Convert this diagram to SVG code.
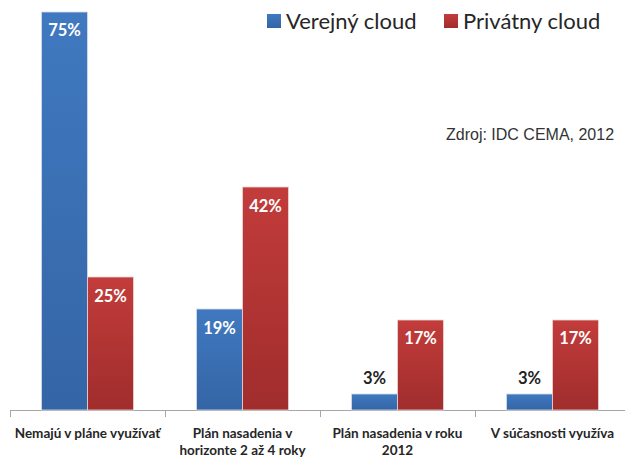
<svg xmlns="http://www.w3.org/2000/svg" width="625" height="457" viewBox="0 0 625 457">
<defs>
<linearGradient id="gb" x1="0" y1="0" x2="0" y2="1"><stop offset="0" stop-color="#4079c0"/><stop offset="1" stop-color="#3465a6"/></linearGradient>
<linearGradient id="gr" x1="0" y1="0" x2="0" y2="1"><stop offset="0" stop-color="#c23c3b"/><stop offset="1" stop-color="#a02d2c"/></linearGradient>
<style>
.b{fill:url(#gb);stroke:#d6dde8;stroke-width:0.8}
.r{fill:url(#gr);stroke:#ead6d6;stroke-width:0.8}
.v{font-family:Lato,"Open Sans",sans-serif;font-weight:bold;font-size:16.5px;fill:#fff;text-anchor:middle}
.vd{fill:#222}
.c{font-family:Lato,"Open Sans",sans-serif;font-weight:bold;font-size:13.5px;fill:#262626;text-anchor:middle}
.lg{font-family:Lato,"Open Sans",sans-serif;font-size:22px;fill:#262626}
.ax{stroke:#a6a6a6;stroke-width:1;fill:none}
</style>
</defs>
<rect width="625" height="457" fill="#fff"/>
<g id="legend">
<rect x="267" y="14" width="14" height="14" fill="url(#gb)"/>
<text class="lg" x="286" y="28.5">Verejný cloud</text>
<rect x="444" y="14" width="14" height="14" fill="url(#gr)"/>
<text class="lg" x="463" y="28.5">Privátny cloud</text>
</g>
<text id="source" x="446" y="140" font-family="Liberation Sans,Arial,sans-serif" font-size="16" fill="#333">Zdroj: IDC CEMA, 2012</text>
<g id="axis">
<path class="ax" d="M10 410.5H625M10.5 410V417M165.5 410V417M320.5 410V417M475.5 410V417"/>
</g>
<g id="cat1">
<rect class="b" x="41.5" y="12" width="46" height="398"/>
<rect class="r" x="87.5" y="277" width="46" height="133"/>
<text class="v" x="64.5" y="36">75%</text>
<text class="v" x="110.5" y="302">25%</text>
<text class="c" x="87.5" y="438">Nemajú v pláne využívať</text>
</g>
<g id="cat2">
<rect class="b" x="196.5" y="309" width="46" height="101"/>
<rect class="r" x="242.5" y="187" width="46" height="223"/>
<text class="v" x="219.5" y="334">19%</text>
<text class="v" x="265.5" y="211.5">42%</text>
<text class="c" x="242.5" y="438">Plán nasadenia v</text>
<text class="c" x="242.5" y="455">horizonte 2 až 4 roky</text>
</g>
<g id="cat3">
<rect class="b" x="351.5" y="394" width="46" height="16"/>
<rect class="r" x="397.5" y="320" width="46" height="90"/>
<text class="v vd" x="374.5" y="384">3%</text>
<text class="v" x="420.5" y="343.5">17%</text>
<text class="c" x="397.5" y="438">Plán nasadenia v roku</text>
<text class="c" x="397.5" y="455">2012</text>
</g>
<g id="cat4">
<rect class="b" x="506.5" y="394" width="46" height="16"/>
<rect class="r" x="552.5" y="320" width="46" height="90"/>
<text class="v vd" x="529.5" y="384">3%</text>
<text class="v" x="575.5" y="343.5">17%</text>
<text class="c" x="552.5" y="438">V súčasnosti využíva</text>
</g>
</svg>
